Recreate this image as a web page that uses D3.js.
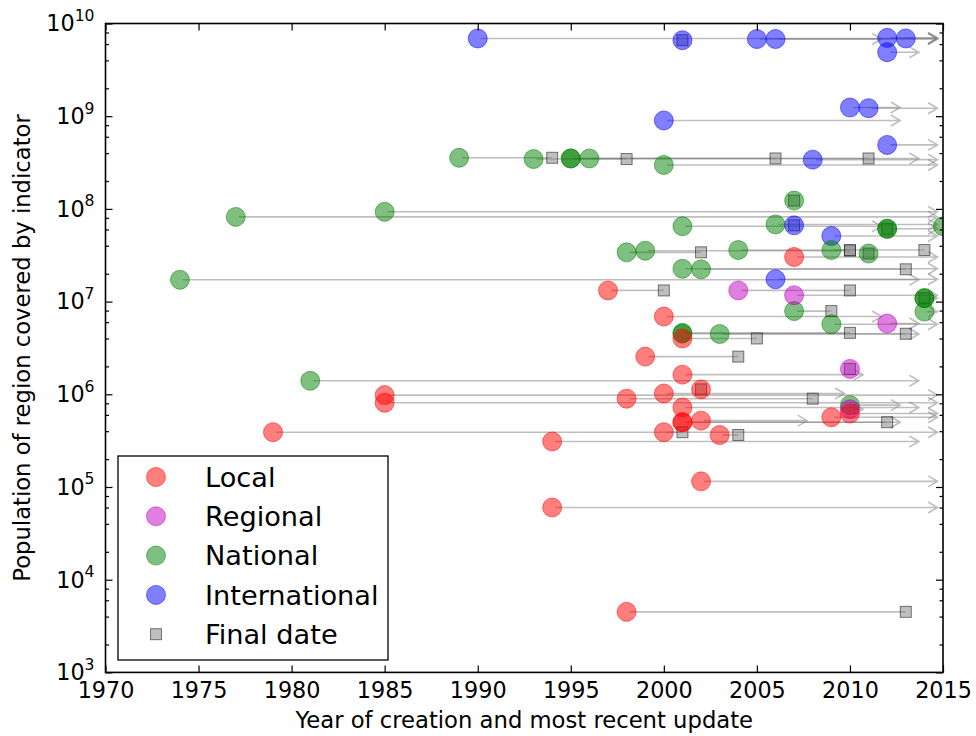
<!DOCTYPE html>
<html lang="en">
<head>
  <meta charset="UTF-8">
  <title>Indicator coverage over time</title>
  <style>
    body { margin: 0; background: #fff; }
    svg { display: block; font-family: "DejaVu Sans", sans-serif; }
  </style>
</head>
<body>
  <svg id="chart" width="976" height="736"></svg>

  <script src="https://d3js.org/d3.v7.min.js"></script>
  <script>
    // Data
    const categories = ["Local", "Regional", "National", "International"];

    const indicatorCategory = [
      "International", "International", "International", "International", "International",
      "International", "International", "International", "International", "International",
      "International", "International", "International", "International", "International",
      "National", "National", "National", "National", "National", "National", "National", "National",
      "National", "National", "National", "National", "National", "National", "National", "National",
      "National", "National", "National", "National", "National", "National", "National", "National",
      "National", "National", "National", "National", "National", "National", "National", "National",
      "Regional", "Regional", "Regional", "Regional", "Regional",
      "Local", "Local", "Local", "Local", "Local", "Local", "Local", "Local",
      "Local", "Local", "Local", "Local", "Local", "Local", "Local", "Local",
      "Local", "Local", "Local", "Local", "Local", "Local", "Local", "Local"
    ];
    const creationYear = [
      1990, 2001, 2005, 2006, 2012, 2013, 2012, 2010, 2011, 2000, 2012, 2008, 2007, 2009, 2006,
      1989, 1993, 1995, 1995, 1996, 2000, 2007, 1985, 1977, 2001, 2006, 2012, 2012, 2015, 1998, 1999,
      2004, 2009, 2011, 2001, 2002, 1974, 2014, 2014, 2007, 2014, 2009, 2001, 2001, 2003, 1981, 2010,
      2004, 2007, 2012, 2010, 2010,
      2007, 1997, 2000, 2001, 1999, 2001, 2002, 2000, 1998, 1985, 1985, 2001, 2010, 2009, 2001, 2001,
      2002, 2000, 1979, 2003, 1994, 2002, 1994, 1998
    ];
    const lastYear = [
      2015, 2001, 2012, 2015, 2015, 2015, 2014, 2013, 2015, 2013, 2015, 2015, 2007, 2015, 2015,
      1994, 1998, 2006, 2014, 2011, 2015, 2007, 2015, 2015, 2012, 2015, 2012, 2015, 2015, 2002, 2010,
      2010, 2014, 2011, 2015, 2013, 2014, 2014, 2015, 2009, 2015, 2015, 2010, 2013, 2014, 2014, 2013,
      2010, 2015, 2014, 2010, 2011,
      2015, 2000, 2012, 2005, 2004, 2011, 2002, 2010, 2008, 2015, 2015, 2014, 2015, 2015, 2012, 2013,
      2008, 2001, 2015, 2004, 2014, 2015, 2015, 2013
    ];
    const population = [
      6.9e9, 6.6e9, 6.8e9, 6.8e9, 7.0e9, 6.9e9, 4.9e9, 1.24e9, 1.22e9, 9.0e8, 4.9e8, 3.4e8, 6.65e7, 5.1e7, 1.74e7,
      3.56e8, 3.45e8, 3.5e8, 3.5e8, 3.5e8, 2.98e8, 1.23e8, 9.3e7, 8.2e7, 6.5e7, 6.8e7, 6.1e7, 6.1e7, 6.5e7, 3.4e7, 3.54e7,
      3.6e7, 3.6e7, 3.3e7, 2.26e7, 2.23e7, 1.72e7, 1.09e7, 1.09e7, 7.9e6, 7.8e6, 5.7e6, 4.6e6, 4.5e6, 4.47e6, 1.4e6, 7.65e5,
      1.32e7, 1.17e7, 5.8e6, 1.88e6, 6.9e5,
      3.03e7, 1.32e7, 6.9e6, 4.0e6, 2.55e6, 1.63e6, 1.13e6, 1.02e6, 8.97e5, 9.8e5, 8.1e5, 7.2e5, 6.2e5, 5.65e5, 5.0e5, 5.0e5,
      5.2e5, 3.9e5, 3.9e5, 3.64e5, 3.1e5, 1.15e5, 6.0e4, 4.5e3
    ];
    // true: the indicator stopped (square at final date); false: still updated (arrow)
    const hasFinalDate = [
      false, true, false, false, false, false, false, false, false, false, false, false, true, false, false,
      true, true, true, false, true, false, true, false, false, false, false, true, false, false, true, true,
      true, true, true, false, true, false, true, false, true, false, false, true, true, false, false, false,
      true, false, false, true, false,
      false, true, false, true, true, false, true, false, true, false, false, false, false, false, true, false,
      false, true, false, true, false, false, false, true
    ];

    const xTicks = [1970, 1975, 1980, 1985, 1990, 1995, 2000, 2005, 2010, 2015];
    const yTickExponents = [3, 4, 5, 6, 7, 8, 9, 10];
    const yMinorSubs = [2, 4, 6, 8];

    const color = {
      Local: "#ff0000",
      Regional: "#bf00bf",
      National: "#008000",
      International: "#0000ff"
    };

    const rows = creationYear.map((c, i) => ({
      cat: indicatorCategory[i], start: c, end: lastYear[i],
      pop: population[i], final: hasFinalDate[i]
    }));

    const margin = { top: 23.5, right: 33, bottom: 63.6, left: 105.5 };
    const width = 976, height = 736;

    const x = d3.scaleLinear().domain([1970, 2015])
      .range([margin.left, width - margin.right]);
    const y = d3.scaleLog().domain([1e3, 1e10])
      .range([height - margin.bottom, margin.top]);

    const svg = d3.select("#chart");

    svg.append("clipPath").attr("id", "plot-clip")
      .append("rect")
      .attr("x", x(1970)).attr("y", y(1e10))
      .attr("width", x(2015) - x(1970)).attr("height", y(1e3) - y(1e10));

    const plot = svg.append("g").attr("clip-path", "url(#plot-clip)");

    // lines from creation to final date / last update
    const shrink = 5.5;
    plot.append("g")
      .selectAll("path")
      .data(rows.filter(d => d.end > d.start))
      .join("path")
      .attr("fill", "none")
      .attr("stroke", "#808080")
      .attr("stroke-opacity", 0.5)
      .attr("stroke-width", 1.6)
      .attr("d", d => {
        const x0 = x(d.start) + 3, yy = y(d.pop);
        if (d.final) return `M${x0},${yy}H${x(d.end)}`;
        const x1 = x(d.end) - shrink;
        return `M${x0},${yy}H${x1}M${x1 - 9.5},${yy - 5.5}L${x1},${yy}L${x1 - 9.5},${yy + 5.5}`;
      });

    // final date squares
    const sq = 11;
    plot.append("g")
      .selectAll("rect")
      .data(rows.filter(d => d.final))
      .join("rect")
      .attr("x", d => x(d.end) - sq / 2)
      .attr("y", d => y(d.pop) - sq / 2)
      .attr("width", sq).attr("height", sq)
      .attr("fill", "#808080").attr("fill-opacity", 0.5)
      .attr("stroke", "#000").attr("stroke-opacity", 0.5)
      .attr("stroke-width", 1);

    // creation circles
    plot.append("g")
      .selectAll("circle")
      .data(rows)
      .join("circle")
      .attr("cx", d => x(d.start))
      .attr("cy", d => y(d.pop))
      .attr("r", 9.5)
      .attr("fill", d => color[d.cat]).attr("fill-opacity", 0.5)
      .attr("stroke", d => color[d.cat]).attr("stroke-opacity", 0.5)
      .attr("stroke-width", 1);

    // axes: ticks pointing inwards on all four sides
    const yMinor = [];
    yTickExponents.slice(0, -1).forEach(e => yMinorSubs.forEach(s => yMinor.push(s * Math.pow(10, e))));
    const yMajor = yTickExponents.map(e => Math.pow(10, e));

    function styleAxis(g) {
      g.select(".domain").remove();
      g.selectAll("line").attr("stroke", "#000").attr("stroke-width", 1.2);
    }

    svg.append("g")
      .attr("transform", `translate(0,${y(1e3)})`)
      .call(d3.axisBottom(x).tickValues(xTicks).tickSize(-7).tickPadding(10).tickFormat(d3.format("d")))
      .call(styleAxis)
      .call(g => g.selectAll("text").attr("fill", "#000").attr("font-size", 22.3).attr("font-family", "DejaVu Sans"));

    svg.append("g")
      .attr("transform", `translate(0,${y(1e10)})`)
      .call(d3.axisTop(x).tickValues(xTicks).tickSize(-7).tickFormat(""))
      .call(styleAxis);

    [[d3.axisLeft, x(1970)], [d3.axisRight, x(2015)]].forEach(([ax, pos]) => {
      svg.append("g")
        .attr("transform", `translate(${pos},0)`)
        .call(ax(y).tickValues(yMajor).tickSize(-7).tickFormat(""))
        .call(styleAxis);
      svg.append("g")
        .attr("transform", `translate(${pos},0)`)
        .call(ax(y).tickValues(yMinor).tickSize(-3.5).tickFormat(""))
        .call(styleAxis);
    });

    // y tick labels as 10^n
    const yLabels = svg.append("g")
      .selectAll("text")
      .data(yTickExponents)
      .join("text")
      .attr("x", x(1970) - 11)
      .attr("y", e => y(Math.pow(10, e)) + 7.8)
      .attr("text-anchor", "end")
      .attr("font-size", 22.3);
    yLabels.append("tspan").text("10");
    yLabels.append("tspan").attr("font-size", 15.6).attr("dy", -10.5).text(e => e);

    // frame
    svg.append("rect")
      .attr("x", x(1970)).attr("y", y(1e10))
      .attr("width", x(2015) - x(1970)).attr("height", y(1e3) - y(1e10))
      .attr("fill", "none").attr("stroke", "#000").attr("stroke-width", 1.6);

    // axis titles
    svg.append("text")
      .attr("x", (x(1970) + x(2015)) / 2).attr("y", 728)
      .attr("text-anchor", "middle").attr("font-size", 22.7)
      .text("Year of creation and most recent update");

    svg.append("text")
      .attr("transform", `translate(30,${(y(1e3) + y(1e10)) / 2}) rotate(-90)`)
      .attr("text-anchor", "middle").attr("font-size", 22.7)
      .text("Population of region covered by indicator");

    // legend
    const legend = svg.append("g").attr("transform", "translate(118,456)");
    legend.append("rect")
      .attr("width", 270).attr("height", 204)
      .attr("fill", "#fff").attr("stroke", "#000").attr("stroke-width", 1.3);

    const legendItems = categories.concat(["Final date"]);
    const item = legend.selectAll("g.item")
      .data(legendItems)
      .join("g")
      .attr("class", "item")
      .attr("transform", (d, i) => `translate(0,${21 + i * 39.3})`);

    item.filter(d => d !== "Final date").append("circle")
      .attr("cx", 38).attr("r", 9.5)
      .attr("fill", d => color[d]).attr("fill-opacity", 0.5)
      .attr("stroke", d => color[d]).attr("stroke-opacity", 0.5);
    item.filter(d => d === "Final date").append("rect")
      .attr("x", 38 - sq / 2).attr("y", -sq / 2).attr("width", sq).attr("height", sq)
      .attr("fill", "#808080").attr("fill-opacity", 0.5)
      .attr("stroke", "#000").attr("stroke-opacity", 0.5);
    item.append("text")
      .attr("x", 87).attr("dy", "0.36em")
      .attr("font-size", 27.2)
      .text(d => d);
  </script>
</body>
</html>
